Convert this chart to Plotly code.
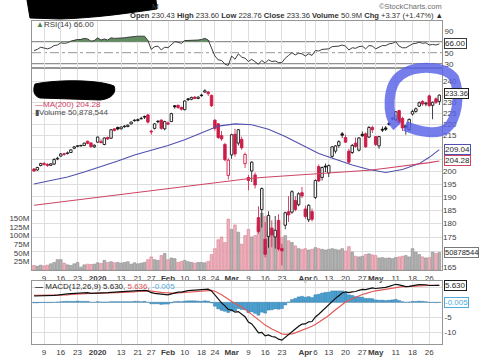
import math
import plotly.graph_objects as go

# ---------------- data ----------------
# trading days 4 Dec 2019 .. 29 May 2020, index 0..121
OPEN = [201.0, 200.6, 202.4, 203.3, 202.9, 202.5, 203.0, 205.1, 206.3, 207.3,
        207.4, 207.8, 209.6, 210.4, 210.6, 210.8, 212.6, 211.9, 210.2, 212.2,
        212.4, 211.2, 214.2, 213.9, 218.0, 218.6, 218.0, 219.2, 219.0, 220.2,
        221.8, 221.7, 222.4, 223.5, 224.2, 217.0, 218.2, 221.4, 221.9, 218.0,
        220.6, 221.2, 228.4, 228.6, 227.6, 226.6, 231.6, 231.4, 232.4, 231.8,
        233.4, 234.8, 234.8, 233.2, 221.8, 220.2, 215.0, 211.2, 198.4, 206.8,
        215.6, 211.8, 213.4, 203.2, 197.6, 200.2, 198.6, 182.2, 185.2, 174.4,
        175.4, 178.4, 175.2, 181.2, 171.2, 179.4, 184.4, 184.2, 188.6, 187.0,
        191.6, 185.4, 181.4, 184.4, 189.8, 202.0, 197.6, 202.2, 199.4, 206.2,
        208.4, 210.8, 215.8, 214.2, 208.4, 207.8, 211.8, 208.8, 215.6, 215.8,
        214.4, 218.6, 214.6, 210.6, 217.8, 218.4, 220.4, 222.4, 222.0, 226.2,
        222.6, 219.4, 217.6, 224.6, 225.8, 228.2, 230.4, 229.2, 233.0, 228.6,
        231.6, 230.43]
HIGH = [201.4, 201.9, 203.6, 203.8, 203.3, 203.4, 205.4, 206.0, 207.6, 207.7,
        208.2, 209.2, 210.6, 211.0, 210.9, 212.0, 212.8, 212.0, 211.2, 214.6,
        213.4, 214.2, 214.6, 217.9, 218.3, 219.0, 219.0, 219.6, 220.0, 221.3,
        222.2, 222.6, 223.4, 224.0, 224.6, 217.6, 220.6, 221.8, 222.1, 221.6,
        221.4, 225.2, 228.8, 228.9, 228.0, 230.9, 232.0, 232.6, 232.9, 232.8,
        234.0, 236.2, 235.3, 233.6, 222.4, 220.6, 217.0, 212.0, 205.4, 215.8,
        218.0, 217.9, 214.6, 207.8, 198.6, 204.2, 199.6, 186.4, 193.6, 180.6,
        184.6, 181.2, 182.8, 183.4, 172.8, 184.4, 190.2, 192.6, 190.2, 191.8,
        193.8, 186.6, 187.2, 185.6, 196.8, 202.8, 202.0, 203.2, 202.8, 210.6,
        211.0, 213.0, 216.6, 215.4, 209.4, 211.4, 214.2, 214.4, 216.8, 216.4,
        219.2, 219.4, 214.8, 214.8, 219.0, 219.2, 221.0, 223.2, 226.0, 226.6,
        223.4, 219.8, 222.6, 226.6, 227.6, 230.4, 231.0, 230.2, 233.6, 230.4,
        232.4, 233.60]
LOW = [199.8, 200.3, 202.1, 202.5, 201.9, 202.2, 202.6, 204.6, 206.0, 206.5,
       207.0, 207.6, 209.2, 210.0, 210.3, 210.7, 211.3, 209.8, 209.7, 212.0,
       211.7, 210.9, 213.1, 213.6, 216.8, 217.4, 217.7, 218.5, 218.7, 219.9,
       221.2, 221.2, 222.2, 222.4, 220.4, 215.4, 217.7, 220.5, 217.6, 217.4,
       219.6, 221.0, 227.0, 226.9, 226.2, 226.3, 230.6, 231.0, 231.4, 231.4,
       232.6, 234.5, 233.0, 227.8, 217.2, 213.6, 212.8, 204.2, 196.8, 205.2,
       206.0, 210.8, 209.0, 201.4, 192.6, 195.8, 193.2, 176.4, 178.6, 168.2,
       171.4, 171.6, 171.2, 170.4, 165.4, 178.0, 180.6, 183.6, 184.6, 186.4,
       189.6, 181.8, 180.6, 180.8, 189.2, 195.8, 196.4, 199.8, 197.8, 205.6,
       207.4, 209.8, 214.0, 211.8, 203.0, 207.2, 209.8, 208.2, 214.4, 209.8,
       214.0, 216.2, 210.6, 209.4, 216.6, 217.0, 219.4, 221.8, 221.4, 220.4,
       217.0, 215.4, 217.0, 224.0, 225.2, 227.8, 228.4, 228.2, 228.0, 222.2,
       229.2, 228.76]
CLOSE = [200.2, 201.6, 203.2, 202.8, 202.4, 203.1, 204.9, 205.4, 207.2, 207.0,
         207.6, 208.9, 210.2, 210.5, 210.6, 211.8, 211.7, 210.3, 210.9, 214.4,
         212.0, 214.0, 213.6, 217.6, 217.3, 217.9, 218.8, 218.9, 219.6, 221.0,
         221.6, 222.1, 222.5, 223.2, 221.0, 216.6, 220.2, 221.1, 218.2, 221.2,
         220.1, 224.8, 227.9, 227.6, 226.8, 230.6, 231.2, 232.3, 231.8, 232.4,
         233.1, 235.4, 234.0, 228.4, 218.2, 214.2, 213.6, 204.8, 204.6, 215.4,
         207.2, 217.6, 209.8, 207.0, 196.4, 203.8, 194.6, 177.2, 193.2, 169.2,
         183.0, 176.0, 177.6, 171.0, 170.4, 184.0, 183.2, 192.0, 185.2, 191.2,
         190.4, 182.6, 186.8, 181.6, 196.4, 196.2, 201.6, 201.8, 202.4, 210.2,
         210.6, 212.4, 215.2, 212.2, 203.8, 210.8, 210.4, 214.0, 215.0, 210.2,
         218.6, 217.6, 211.2, 214.6, 217.4, 217.8, 220.0, 222.8, 225.6, 220.8,
         218.4, 218.6, 222.2, 225.8, 227.0, 229.8, 229.2, 229.6, 228.4, 230.0,
         229.99, 233.36]
VOLUME_M = [13, 11, 14, 12, 14, 18, 22, 30, 30, 20,
            15, 13, 18, 22, 7, 15, 17, 16, 17, 21,
            19, 28, 22, 24, 21, 22, 20, 22, 24, 17,
            21, 18, 20, 22, 30, 38, 30, 28, 42, 48,
            30, 35, 33, 22, 25, 28, 24, 22, 20, 22,
            22, 21, 25, 45, 62, 88, 96, 80, 148, 118,
            131, 110, 75, 100, 118, 96, 100, 128, 165, 155,
            110, 105, 100, 116, 95, 100, 85, 80, 70, 62,
            60, 62, 58, 60, 65, 62, 60, 58, 60, 62,
            60, 58, 62, 55, 68, 52, 40, 38, 40, 45,
            47, 44, 42, 35, 36, 34, 35, 33, 36, 38,
            40, 42, 38, 62, 52, 45, 38, 35, 36, 52,
            48, 50.878544]
RSI = [54, 56, 60, 58, 57, 59, 63, 64, 68, 67,
       68, 71, 73, 74, 74, 76, 75, 71, 72, 77,
       73, 75, 73, 77, 76, 76, 77, 77, 78, 79,
       80, 80, 80, 80, 72, 56, 61, 62, 55, 60,
       59, 65, 70, 69, 67, 72, 72, 73, 72, 73,
       74, 76, 73, 60, 44, 37, 36, 29, 27, 44,
       38, 48, 42, 40, 34, 38, 34, 29, 36, 31,
       37, 34, 35, 32, 32, 40, 45, 50, 46, 49,
       48, 44, 48, 45, 54, 53, 56, 56, 57, 61,
       61, 62, 64, 62, 55, 59, 58, 61, 62, 57,
       63, 62, 57, 60, 63, 63, 66, 67, 70, 62,
       59, 59, 63, 66, 67, 69, 67, 68, 64, 65,
       64, 66]
MACD = [2.1, 2.1, 2.2, 2.2, 2.2, 2.2, 2.3, 2.4, 2.6, 2.7,
        2.8, 2.9, 3.0, 3.1, 3.1, 3.2, 3.2, 3.0, 3.0, 3.2,
        3.1, 3.2, 3.2, 3.3, 3.4, 3.4, 3.5, 3.5, 3.6, 3.7,
        3.8, 3.9, 3.9, 4.0, 3.8, 3.2, 3.0, 2.9, 2.6, 2.6,
        2.5, 2.8, 3.2, 3.4, 3.4, 3.7, 3.9, 4.0, 4.1, 4.1,
        4.1, 4.4, 4.4, 3.8, 2.4, 1.0, -0.2, -1.2, -2.4, -2.6,
        -3.3, -3.1, -4.0, -4.8, -6.6, -7.2, -8.6, -10.2, -10.0, -11.2,
        -10.9, -11.4, -11.6, -12.3, -12.6, -11.6, -10.6, -9.6, -8.9, -8.0,
        -7.3, -7.2, -6.5, -6.4, -4.9, -4.0, -2.9, -1.9, -1.0, 0.4,
        1.3, 2.2, 3.1, 3.5, 3.2, 3.5, 3.6, 4.0, 4.3, 4.2,
        4.6, 4.8, 4.6, 4.7, 4.9, 5.0, 5.3, 5.6, 6.0, 5.8,
        5.4, 5.2, 5.3, 5.6, 5.7, 5.9, 5.9, 5.85, 5.6, 5.6,
        5.5, 5.63]
SIGNAL = [2.3, 2.3, 2.3, 2.3, 2.3, 2.3, 2.3, 2.3, 2.4, 2.4,
          2.5, 2.6, 2.7, 2.7, 2.8, 2.9, 2.9, 3.0, 3.0, 3.0,
          3.0, 3.1, 3.1, 3.1, 3.2, 3.2, 3.3, 3.3, 3.4, 3.5,
          3.5, 3.6, 3.7, 3.7, 3.8, 3.7, 3.5, 3.4, 3.3, 3.2,
          3.1, 3.0, 3.0, 3.1, 3.2, 3.3, 3.4, 3.5, 3.6, 3.7,
          3.8, 3.9, 4.0, 4.0, 3.7, 3.2, 2.5, 1.8, 1.0, 0.3,
          -0.4, -1.0, -1.6, -2.3, -3.2, -4.0, -4.9, -5.9, -6.7, -7.6,
          -8.3, -8.9, -9.4, -10.0, -10.5, -10.7, -10.7, -10.5, -10.2, -9.8,
          -9.3, -8.9, -8.4, -8.0, -7.4, -6.7, -6.0, -5.2, -4.4, -3.4,
          -2.5, -1.6, -0.7, 0.1, 0.7, 1.2, 1.7, 2.2, 2.6, 2.9,
          3.3, 3.6, 3.8, 4.0, 4.2, 4.4, 4.6, 4.8, 5.0, 5.2,
          5.2, 5.2, 5.2, 5.3, 5.4, 5.5, 5.6, 5.65, 5.65, 5.64,
          5.6, 5.636]
MA_IDX = [0, 5, 10, 15, 20, 25, 30, 35, 40, 45, 50, 55, 60, 65, 70, 75, 80,
          85, 90, 95, 100, 105, 110, 115, 118, 121]
MA50 = [195.0, 196.3, 197.8, 199.8, 202.0, 204.3, 206.8, 208.8, 210.8, 213.2,
        216.2, 219.2, 220.2, 219.8, 217.8, 214.6, 211.0, 207.4, 205.0, 202.6,
        200.8, 199.6, 200.8, 203.2, 205.8, 209.04]
MA200 = [186.8, 187.6, 188.4, 189.2, 190.0, 190.8, 191.6, 192.4, 193.2, 194.0,
         194.9, 195.8, 196.6, 197.3, 197.8, 198.2, 198.6, 199.0, 199.4, 199.8,
         200.5, 201.3, 202.1, 203.0, 203.6, 204.28]
TICK_POS = [3, 8, 13, 19, 26, 31, 35, 40, 45, 50, 54, 59, 64, 69, 74, 81, 84,
            88, 93, 98, 102, 108, 113, 118]
TICK_TEXT = ['9', '16', '23', '<b>2020</b>', '13', '21', '27', '<b>Feb</b>',
             '10', '18', '24', '<b>Mar</b>', '9', '16', '23', '<b>Apr</b>', '6',
             '13', '20', '27', '<b>May</b>', '11', '18', '26']
PRICE_TICKS = [165, 170, 175, 180, 185, 190, 195, 200, 205, 210, 215, 220,
               225, 230, 235, 240]
PRICE_HIDDEN = [170, 205, 210, 235]          # covered by the value boxes
VOL_TICKS_M = [25, 50, 75, 100, 125, 150]
RSI_TICKS = [30, 50, 70, 90]
RSI_HIDDEN = [70]
MACD_TICKS = [-10, -5, 0, 5]
MACD_HIDDEN = [0, 5]

# ---------------- geometry helpers ----------------
W, H = 480, 358
ML, MR = 32, 38
PW = W - ML - MR


def px(x):
    return (x - ML) / PW


def py(y):
    return 1 - y / H


N = len(CLOSE)
IDX = list(range(N))
RED = 'rgb(204,28,72)'
BLK = 'rgb(20,20,20)'
FONT = 'Liberation Sans, Arial, sans-serif'

up = [CLOSE[i] >= (CLOSE[i - 1] if i > 0 else OPEN[i]) for i in IDX]
ccol = [BLK if u else RED for u in up]
fill = ['white' if CLOSE[i] > OPEN[i] else ccol[i] for i in IDX]
body_base = [min(OPEN[i], CLOSE[i]) for i in IDX]
body_h = [max(abs(CLOSE[i] - OPEN[i]), 0.25) for i in IDX]
wick_h = [HIGH[i] - LOW[i] for i in IDX]
vol = [v * 1e6 for v in VOLUME_M]
vcol = ['rgb(178,178,178)' if u else 'rgb(238,176,186)' for u in up]
vline = ['rgb(140,140,140)' if u else 'rgb(214,130,148)' for u in up]
hist = [MACD[i] - SIGNAL[i] for i in IDX]
rsi_hi = [max(r, 70) for r in RSI]


def labels(vals, hidden):
    return ['' if v in hidden else str(v) for v in vals]


fig = go.Figure()

# volume (behind candles)
fig.add_trace(go.Bar(x=IDX, y=vol, width=0.8, marker=dict(color=vcol, line=dict(color=vline, width=0.6)),
                     xaxis='x', yaxis='y', hoverinfo='skip'))
# wicks
fig.add_trace(go.Bar(x=IDX, y=wick_h, base=LOW, width=0.24, marker=dict(color=ccol, line=dict(width=0)),
                     xaxis='x', yaxis='y2', hoverinfo='skip'))
# bodies
fig.add_trace(go.Bar(x=IDX, y=body_h, base=body_base, width=0.74,
                     marker=dict(color=fill, line=dict(color=ccol, width=0.9)),
                     xaxis='x', yaxis='y2', hoverinfo='skip'))
# moving averages
fig.add_trace(go.Scatter(x=MA_IDX, y=MA50, mode='lines', line=dict(color='rgb(80,80,175)', width=1.1),
                         xaxis='x', yaxis='y2', hoverinfo='skip'))
fig.add_trace(go.Scatter(x=MA_IDX, y=MA200, mode='lines', line=dict(color='rgb(205,70,100)', width=1.1),
                         xaxis='x', yaxis='y2', hoverinfo='skip'))

# RSI
fig.add_trace(go.Scatter(x=IDX, y=[70] * N, mode='lines', line=dict(width=0),
                         xaxis='x2', yaxis='y3', hoverinfo='skip'))
fig.add_trace(go.Scatter(x=IDX, y=rsi_hi, mode='lines', line=dict(width=0), fill='tonexty',
                         fillcolor='rgb(98,140,98)', xaxis='x2', yaxis='y3', hoverinfo='skip'))
fig.add_trace(go.Scatter(x=IDX, y=RSI, mode='lines', line=dict(color='rgb(60,60,60)', width=1),
                         xaxis='x2', yaxis='y3', hoverinfo='skip'))

# MACD
fig.add_trace(go.Bar(x=IDX, y=hist, width=0.9,
                     marker=dict(color='rgb(70,160,210)', line=dict(color='rgb(40,110,160)', width=0.4)),
                     xaxis='x3', yaxis='y4', hoverinfo='skip'))
fig.add_trace(go.Scatter(x=IDX, y=SIGNAL, mode='lines', line=dict(color='rgb(225,90,90)', width=1.2),
                         xaxis='x3', yaxis='y4', hoverinfo='skip'))
fig.add_trace(go.Scatter(x=IDX, y=MACD, mode='lines', line=dict(color='rgb(15,15,15)', width=1.2),
                         xaxis='x3', yaxis='y4', hoverinfo='skip'))

XR = [-0.6, 121.8]
GRID = 'rgb(222,222,222)'
LINE = 'rgb(150,150,150)'
TF = dict(family=FONT, size=8, color='rgb(60,60,60)')

xcommon = dict(range=XR, tickmode='array', tickvals=TICK_POS, ticktext=TICK_TEXT, showgrid=True,
               gridcolor=GRID, gridwidth=1, zeroline=False, showline=True, linecolor=LINE, mirror=True,
               ticks='', tickangle=0, tickfont=TF, fixedrange=True)

fig.update_layout(
    width=W, height=H, margin=dict(l=ML, r=MR, t=0, b=0),
    paper_bgcolor='white', plot_bgcolor='white', showlegend=False, barmode='overlay',
    font=dict(family=FONT, size=8, color='rgb(60,60,60)'),
    xaxis=dict(domain=[0, 1], anchor='y', **xcommon),
    yaxis=dict(domain=[py(270), py(68)], range=[0, 587e6], side='left', tickmode='array',
               tickvals=[v * 1e6 for v in VOL_TICKS_M], ticktext=['%dM' % v for v in VOL_TICKS_M],
               showgrid=False, zeroline=False, showline=True, linecolor=LINE, mirror=True,
               ticks='', tickfont=TF, fixedrange=True),
    yaxis2=dict(overlaying='y', anchor='x', side='right', type='log',
                range=[math.log10(163.9), math.log10(246.5)], tickmode='array',
                tickvals=PRICE_TICKS, ticktext=labels(PRICE_TICKS, PRICE_HIDDEN),
                showgrid=True, gridcolor=GRID, zeroline=False, showline=False, ticks='',
                tickfont=TF, fixedrange=True),
    xaxis2=dict(domain=[0, 1], anchor='y3', matches='x', **xcommon),
    yaxis3=dict(domain=[py(68), py(21)], anchor='x2', range=[22.2, 107.6], side='right',
                tickmode='array', tickvals=RSI_TICKS, ticktext=labels(RSI_TICKS, RSI_HIDDEN),
                showgrid=False, zeroline=False,
                showline=True, linecolor=LINE, mirror=True, ticks='', tickfont=TF, fixedrange=True),
    xaxis3=dict(domain=[0, 1], anchor='y4', matches='x', **xcommon),
    yaxis4=dict(domain=[py(344), py(281)], anchor='x3', range=[-13.9, 7.1], side='right',
                tickmode='array', tickvals=MACD_TICKS, ticktext=labels(MACD_TICKS, MACD_HIDDEN),
                showgrid=True, gridcolor=GRID,
                zeroline=False, showline=True, linecolor=LINE, mirror=True, ticks='',
                tickfont=TF, fixedrange=True),
)
fig.layout.xaxis2.showticklabels = False

shapes = []
# RSI reference lines
for lvl, dash, col in [(70, 'solid', 'rgb(120,120,120)'), (30, 'solid', 'rgb(120,120,120)'),
                       (50, 'dashdot', 'rgb(150,150,150)')]:
    shapes.append(dict(type='line', xref='paper', x0=0, x1=1, yref='y3', y0=lvl, y1=lvl,
                       line=dict(color=col, width=1, dash=dash), layer='below'))


def path(points_px):
    cmd = []
    for tok in points_px:
        if isinstance(tok, str):
            cmd.append(tok)
        else:
            cmd.append('%.4f,%.4f' % (px(tok[0]), py(tok[1])))
    return ' '.join(cmd)


# redaction scribbles
shapes.append(dict(type='path', xref='paper', yref='paper', layer='above', fillcolor='black',
                   line=dict(color='black', width=1),
                   path=path(['M', (27, 0), 'L', (156, 0), 'L', (157, 9), 'C', (130, 13), (95, 18), (60, 19),
                              'L', (30, 18), 'Z'])))
shapes.append(dict(type='path', xref='paper', yref='paper', layer='above', fillcolor='black',
                   line=dict(color='black', width=1),
                   path=path(['M', (35, 84), 'C', (60, 79), (100, 80), (114, 86), 'C', (117, 93), (111, 99),
                              (100, 100), 'L', (40, 98), 'C', (33, 96), (33, 89), (35, 84), 'Z'])))
# hand-drawn blue loop
shapes.append(dict(type='path', xref='paper', yref='paper', layer='above',
                   line=dict(color='rgba(88,98,232,0.82)', width=10),
                   path=path(['M', (397, 127), 'C', (386, 115), (387, 85), (401, 75), 'C', (415, 65),
                              (445, 65), (454, 78), 'C', (461, 95), (457, 120), (446, 129), 'C', (437, 135),
                              (420, 132), (405, 126)])))
fig.update_layout(shapes=shapes)

ann = []


def text(x, y, s, size=8, color='rgb(50,50,50)', anchor='left'):
    ann.append(dict(xref='paper', yref='paper', x=px(x), y=py(y), text=s, showarrow=False,
                    xanchor=anchor, yanchor='middle', font=dict(family=FONT, size=size, color=color)))


text(445, 16, '<b>Open</b> 230.43 <b>High</b> 233.60 <b>Low</b> 228.76 <b>Close</b> 233.36 '
     '<b>Volume</b> 50.9M <b>Chg</b> +3.37 (+1.47%) ▲', size=7.6, anchor='right')
text(444, 6, '©StockCharts.com', size=7.5, color='rgb(110,110,110)', anchor='right')
text(150, 6, 'M', size=8, color='rgb(60,60,60)')
text(34, 25, '<span style="color:rgb(80,130,80)">▲</span>RSI(14) 66.00', size=8, color='rgb(60,60,60)')
text(33, 104, '—MA(200) 204.28', size=8, color='rgb(205,60,95)')
text(33, 112, '▮Volume 50,878,544', size=8, color='rgb(80,80,80)')
text(33, 286, '<b>—</b> MACD(12,26,9) 5.630, <span style="color:rgb(220,80,80)">5.636</span>, '
     '<span style="color:rgb(80,170,220)">-0.005</span>', size=8, color='rgb(40,40,40)')


def box(yref, yval, s, border, color='rgb(30,30,30)', size=8, yshift=0):
    ann.append(dict(xref='paper', yref=yref, x=px(444), y=yval, text=s, showarrow=False,
                    xanchor='left', yanchor='middle', bgcolor='white', bordercolor=border,
                    borderwidth=1, borderpad=0, yshift=yshift,
                    font=dict(family=FONT, size=size, color=color)))


box('y2', math.log10(CLOSE[-1]), '%.2f' % CLOSE[-1], 'rgb(30,30,30)', size=7.5, yshift=1.5)
box('y2', math.log10(MA50[-1]), '%.2f' % MA50[-1], 'rgb(80,80,175)')
box('y2', math.log10(MA200[-1]), '%.2f' % MA200[-1], 'rgb(205,70,100)')
box('y', vol[-1], '%d' % round(vol[-1]), 'rgb(120,120,120)', size=7.5)
box('y3', RSI[-1], '%.2f' % RSI[-1], 'rgb(60,60,60)')
box('y4', MACD[-1], '%.3f' % MACD[-1], 'rgb(30,30,30)')
box('y4', hist[-1], '%.3f' % -0.005, 'rgb(80,170,220)', color='rgb(80,170,220)')
fig.update_layout(annotations=ann)

fig.write_html('out.html', config={'displayModeBar': False, 'staticPlot': True},
               post_script="document.body.style.margin='0px';document.body.style.overflow='hidden';")
